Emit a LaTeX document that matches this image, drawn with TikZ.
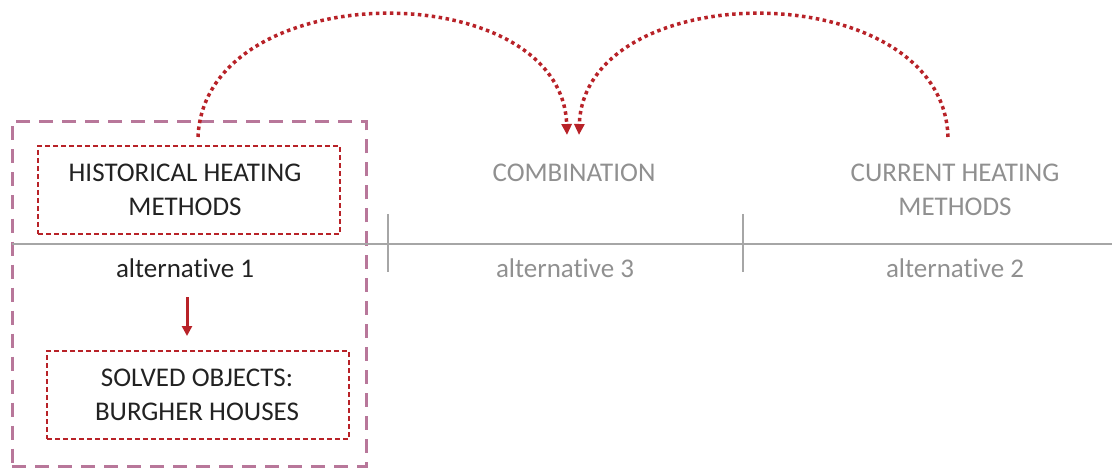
\documentclass[tikz,border=0pt]{standalone}
\usepackage{fontspec}
\setmainfont{Carlito}[Ligatures=NoCommon]
\usetikzlibrary{arrows.meta}
\definecolor{darkred}{HTML}{B82228}
\definecolor{pinkline}{HTML}{B8779A}
\definecolor{axisgray}{HTML}{A6A6A6}
\definecolor{textgray}{HTML}{909090}
\definecolor{textblack}{HTML}{222222}
\tikzset{
  lbl/.style={font=\fontsize{27}{34}\selectfont, align=center, inner sep=0pt},
  dark/.style={text=textblack},
  light/.style={text=textgray},
  redbox/.style={draw=darkred, line width=2pt, dash pattern=on 5pt off 3pt, minimum width=302pt, minimum height=88pt},
  outerbox/.style={draw=pinkline, line width=3pt, dash pattern=on 14pt off 9pt, minimum width=354pt, minimum height=345pt},
  axis/.style={draw=axisgray, line width=2pt},
  dotarc/.style={draw=darkred, line width=3.5pt, dash pattern=on 3.5pt off 3.5pt, -{Triangle[width=10pt,length=11pt]}},
  solidarrow/.style={draw=darkred, line width=3pt, -{Triangle[width=10pt,length=10pt]}}
}
\begin{document}
\begin{tikzpicture}[x=1pt,y=-1pt]
\useasboundingbox (0,0) rectangle (1112,468);
% outer dashed frame
\node[outerbox] (frame) at (189,294) {};
% axis
\coordinate (axL) at (12,244);
\coordinate (axR) at (1112,244);
\draw[axis] (axL) -- (axR);
\coordinate (t1a) at (388,214); \coordinate (t1b) at (388,272);
\coordinate (t2a) at (743,214); \coordinate (t2b) at (743,272);
\draw[axis] (t1a) -- (t1b);
\draw[axis] (t2a) -- (t2b);
% boxes
\node[redbox] (hist) at (189,190) {};
\node[lbl,dark] (histtext) at (185,190) {HISTORICAL HEATING\\METHODS};
\node[redbox] (solved) at (198,395) {};
\node[lbl,dark] (solvedtext) at (197,395) {SOLVED OBJECTS:\\BURGHER HOUSES};
% labels
\node[lbl,light] (comb) at (574,173) {COMBINATION};
\node[lbl,light] (curr) at (955,190) {CURRENT HEATING\\METHODS};
\node[lbl,dark] (alt1) at (185,268) {alternative 1};
\node[lbl,light] (alt3) at (565,268) {alternative 3};
\node[lbl,light] (alt2) at (955,268) {alternative 2};
% arrow down
\coordinate (a1s) at (187,297);
\coordinate (a1e) at (187,336);
\draw[solidarrow] (a1s) -- (a1e);
% dotted arcs
\coordinate (h1) at (198,137);
\coordinate (c1) at (567,135);
\coordinate (h2) at (948,137);
\coordinate (c2) at (579,135);
\draw[dotarc] (h1) .. controls (205,-26) and (562,-26) .. (c1);
\draw[dotarc] (h2) .. controls (943,-26) and (584,-26) .. (c2);
\end{tikzpicture}
\end{document}
